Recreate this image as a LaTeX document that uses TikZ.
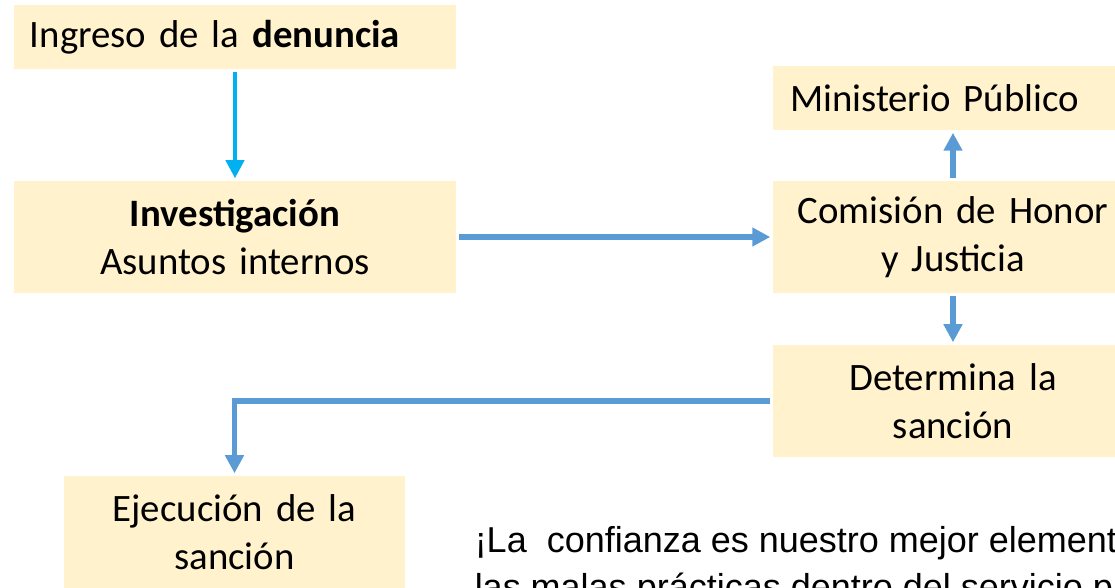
\documentclass[tikz,border=0pt]{standalone}
\usepackage{fontspec}
\setmainfont{Carlito}[WordSpace=0.85]
\newfontfamily\arialfont{Liberation Sans}
\usetikzlibrary{arrows.meta,positioning}
\definecolor{cajafondo}{HTML}{FFF2CC}
\definecolor{flechaazul}{HTML}{5B9BD5}
\definecolor{flechacian}{HTML}{00B0F0}

\begin{document}
\begin{tikzpicture}[x=0.5pt,y=-0.5pt,-{Triangle[length=9pt,width=9pt]},line width=2.75pt,draw=flechaazul]
\tikzstyle{caja}=[draw=none,fill=cajafondo,inner sep=0pt,align=center,font=\fontsize{19.4}{24}\selectfont]
\tikzstyle{lema}=[anchor=base west,align=left,inner sep=0pt,font=\arialfont\fontsize{18}{23.5}\selectfont]
\useasboundingbox (0,0) rectangle (1115,588);
\clip (0,0) rectangle (1115,588);

\node[caja,text width=205pt,inner xsep=8pt,align=left,minimum height=32pt] (A) at (235,37) {Ingreso de la \textbf{denuncia}};
\node[caja,text width=221pt,minimum height=56pt] (B) at (235,237) {\textbf{Investigación}\\Asuntos internos};
\node[caja,text width=180pt,minimum height=56pt] (C) at (953,237) {Comisión de Honor\\y Justicia};
\node[caja,text width=163pt,inner xsep=8.5pt,align=left,minimum height=32pt] (M) at (953,98) {Ministerio Público};
\node[caja,text width=180pt,minimum height=56pt] (D) at (953,401) {Determina la\\sanción};
\node[caja,text width=170.5pt,minimum height=56pt] (E) at (234.5,532) {Ejecución de la\\sanción};
\node[lema] (texto) at (472,599) {¡La\ \ confianza es nuestro mejor elemento\\las malas prácticas dentro del servicio público};

\path (A) edge[draw=flechacian,line width=2pt] (B)
      (B) edge (C)
      (C) edge (M)
          edge (D);
\draw (D.west) -| (E.north);

\end{tikzpicture}
\end{document}
